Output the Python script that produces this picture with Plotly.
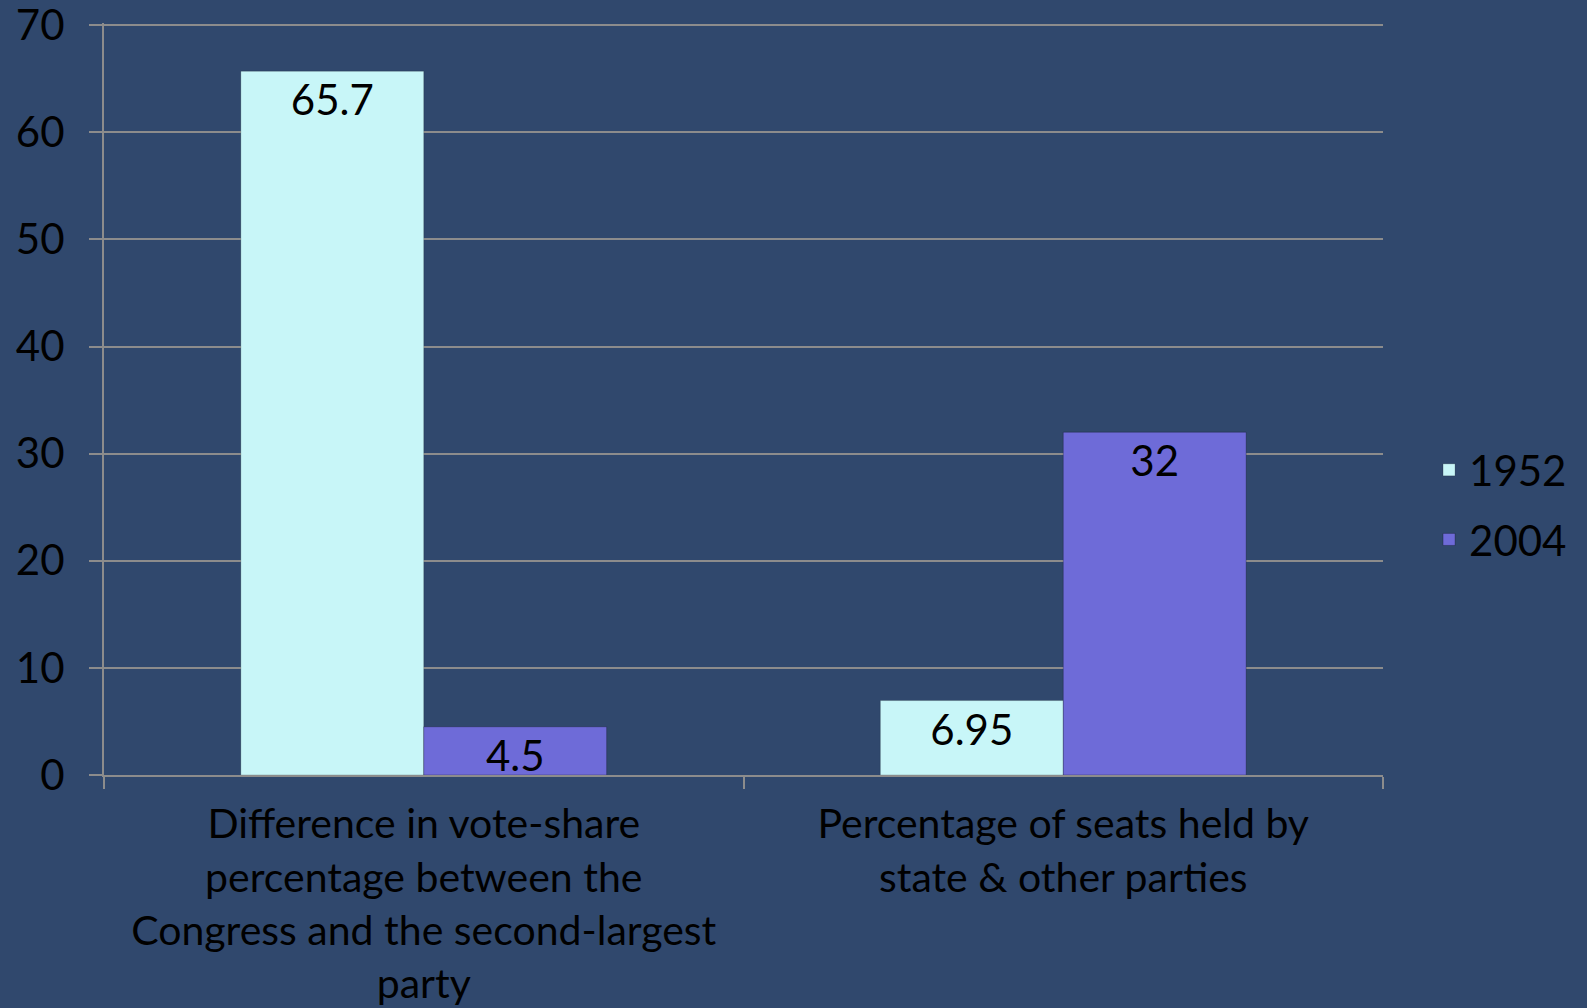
import plotly.graph_objects as go

categories = [
    "Difference in vote-share<br>percentage between the<br>Congress and the second-largest<br>party",
    "Percentage of seats held by<br>state & other parties",
]
series_names = ["1952", "2004"]
values_1952 = [65.7, 6.95]
values_2004 = [4.5, 32]
y_ticks = [0, 10, 20, 30, 40, 50, 60, 70]

BG = "#30486D"
GRID = "#8C8C8C"
FONT = "Lato"
FS = 42

fig = go.Figure()
fig.add_trace(go.Bar(
    name=series_names[0], x=categories, y=values_1952,
    text=[str(v) for v in values_1952],
    textposition="inside", insidetextanchor="end", constraintext="none",
    textfont=dict(color="black", size=FS, family=FONT),
    marker=dict(color="#C8F6F8", line=dict(color="rgba(0,0,0,0.18)", width=1)),
    legendgroup="a",
))
fig.add_trace(go.Bar(
    name=series_names[1], x=categories, y=values_2004,
    text=[str(v) for v in values_2004],
    textposition="inside", insidetextanchor="end", constraintext="none",
    textfont=dict(color="black", size=FS, family=FONT),
    marker=dict(color="#6E6BD8", line=dict(color="rgba(0,0,0,0.25)", width=1)),
    legendgroup="b",
))

fig.update_layout(
    width=1587, height=1008,
    paper_bgcolor=BG, plot_bgcolor=BG,
    margin=dict(l=104, r=204, t=23, b=233, autoexpand=False),
    barmode="group", bargap=0.428, bargroupgap=0,
    font=dict(family=FONT, size=FS, color="black"),
    legend=dict(x=1.036, y=0.359, xanchor="left", yanchor="middle",
                font=dict(size=FS, color="black", family=FONT),
                tracegroupgap=12, bgcolor="rgba(0,0,0,0)"),
)
fig.update_yaxes(
    range=[0, 70.2], tickvals=y_ticks, showgrid=True, gridcolor=GRID, gridwidth=2,
    showline=True, linecolor=GRID, linewidth=2, ticks="outside", ticklen=13,
    tickcolor=GRID, tickwidth=2, zeroline=False, automargin=False,
    ticklabelstandoff=16, ticklabeloverflow="allow",
    tickfont=dict(size=FS, color="black", family=FONT),
)
fig.update_xaxes(
    showline=True, linecolor=GRID, linewidth=2, ticks="outside", ticklen=12,
    tickcolor=GRID, tickwidth=2, tickson="boundaries", automargin=False,
    ticklabelstandoff=12, ticklabeloverflow="allow",
    tickfont=dict(size=41, color="black", family=FONT),
)

fig.write_html(
    "out.html",
    config={"displayModeBar": False},
    post_script="document.body.style.margin='0';document.body.style.background='" + BG + "';",
)
